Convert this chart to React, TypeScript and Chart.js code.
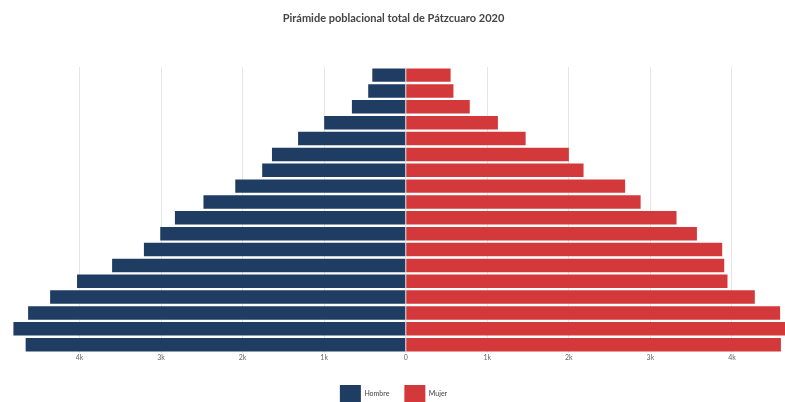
import React, { useEffect, useRef } from "react";
import { Chart, registerables } from "chart.js";

Chart.register(...registerables);

const ageGroups = [
  "85 y más", "80-84", "75-79", "70-74", "65-69", "60-64", "55-59", "50-54", "45-49",
  "40-44", "35-39", "30-34", "25-29", "20-24", "15-19", "10-14", "5-9", "0-4",
];
const hombre = [410, 460, 660, 1000, 1320, 1640, 1760, 2090, 2480, 2830, 3010, 3210, 3600, 4030, 4360, 4630, 4810, 4660];
const mujer = [550, 585, 785, 1130, 1470, 2000, 2180, 2690, 2880, 3320, 3570, 3880, 3905, 3945, 4280, 4590, 4720, 4600];
const tickValues = [-4000, -3000, -2000, -1000, 0, 1000, 2000, 3000, 4000];

export default function App() {
  const ref = useRef<HTMLCanvasElement | null>(null);
  useEffect(() => {
    if (!ref.current) return;
    const chart = new Chart(ref.current, {
      type: "bar",
      data: {
        labels: ageGroups,
        datasets: [
          { label: "Hombre", data: hombre.map((v) => -v), backgroundColor: "#1f3c62", barPercentage: 0.85, categoryPercentage: 1 },
          { label: "Mujer", data: mujer, backgroundColor: "#d3393a", barPercentage: 0.85, categoryPercentage: 1 },
        ],
      },
      options: {
        indexAxis: "y",
        animation: false,
        responsive: true,
        maintainAspectRatio: false,
        layout: { padding: { left: 2, right: 0, top: 12, bottom: -11 } },
        scales: {
          x: {
            stacked: true,
            min: -4950,
            max: 4650,
            afterBuildTicks: (axis: any) => {
              axis.ticks = tickValues.map((v) => ({ value: v }));
            },
            afterFit: (axis: any) => {
              axis.height += 7;
            },
            ticks: {
              color: "#666",
              font: { family: "Lato", size: 7 },
              padding: 1,
              callback: (v: any) => (v === 0 ? "0" : Math.abs(v) / 1000 + "k"),
            },
            grid: { color: "#e6e6e6", drawTicks: false },
            border: { display: false },
          },
          y: {
            stacked: true,
            display: false,
          },
        },
        plugins: {
          title: {
            display: true,
            text: "Pirámide poblacional total de Pátzcuaro 2020",
            color: "#444",
            font: { family: "Lato", size: 11, weight: "bold" },
            padding: { top: 0, bottom: 42 },
          },
          legend: {
            position: "bottom",
            labels: {
              boxWidth: 21,
              boxHeight: 18,
              padding: 15,
              color: "#444",
              font: { family: "Lato", size: 7 },
            },
          },
          tooltip: { enabled: false },
        },
      },
    });
    return () => chart.destroy();
  }, []);
  return (
    <div style={{ position: "absolute", left: 0, top: 0, width: 785, height: 402, background: "#fff" }}>
      <canvas ref={ref} />
    </div>
  );
}
